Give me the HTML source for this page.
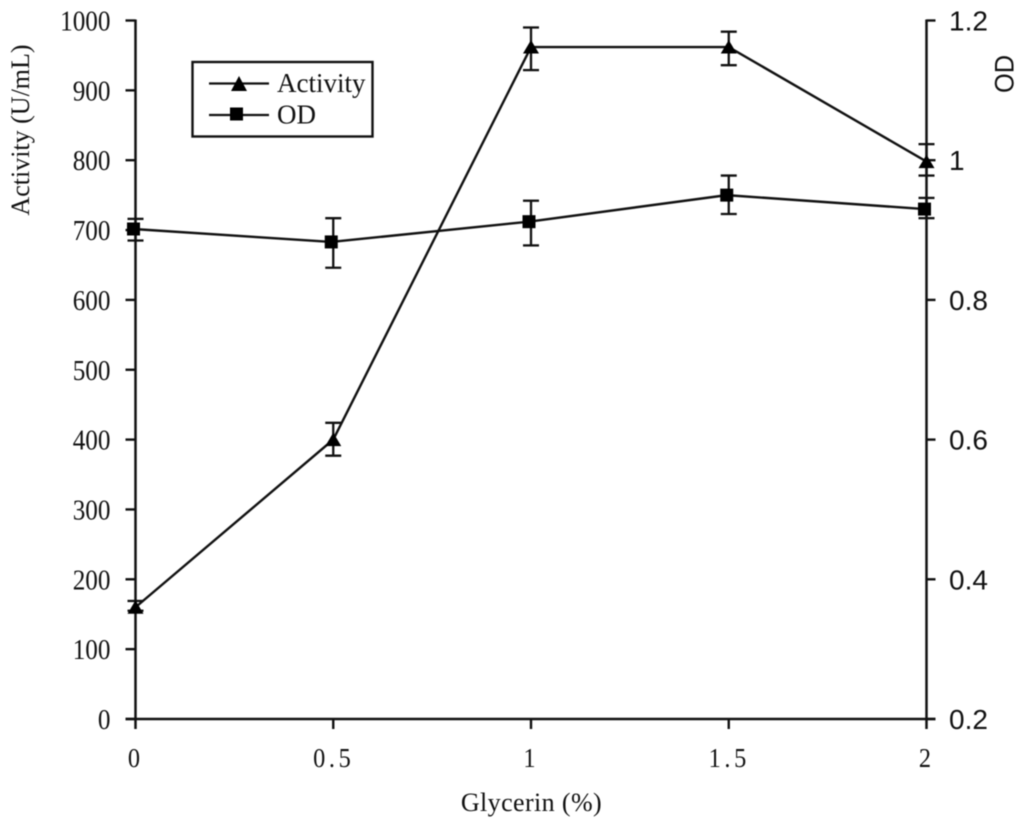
<!DOCTYPE html>
<html>
<head>
<meta charset="utf-8">
<title>Activity and OD vs Glycerin</title>
<style>
html,body{margin:0;padding:0;background:#fff;}
svg{display:block;filter:blur(0.4px);}
.serif{font-family:"Liberation Serif",serif;}
.sans{font-family:"Liberation Sans",sans-serif;}
</style>
</head>
<body>
<svg id="chart" width="1024" height="826" viewBox="0 0 1024 826" xmlns="http://www.w3.org/2000/svg">
  <rect width="1024" height="826" fill="#fff"/>
  <g id="axes"></g>
  <g id="series"></g>
  <g>
    <rect x="192.5" y="62" width="180" height="74.5" fill="#fff" stroke="#111" stroke-width="2.4"/>
    <line x1="209" y1="83.5" x2="269" y2="83.5" stroke="#111" stroke-width="2.3"/>
    <polygon points="239,76 247,91 231,91" fill="#000"/>
    <text class="serif" x="277" y="92" font-size="27" fill="#111">Activity</text>
    <line x1="209" y1="115" x2="269" y2="115" stroke="#111" stroke-width="2.3"/>
    <rect x="230" y="107.5" width="13" height="13" fill="#000"/>
    <text class="serif" x="277" y="123.5" font-size="27" fill="#111">OD</text>
  </g>
  <text class="serif" x="531.5" y="811" font-size="26" letter-spacing="0.4" text-anchor="middle" fill="#111">Glycerin (%)</text>
  <text class="serif" transform="translate(29,130) rotate(-90)" font-size="26" text-anchor="middle" fill="#111">Activity (U/mL)</text>
  <text class="sans" transform="translate(1013.5,74) rotate(-90) scale(0.94,1)" font-size="27" text-anchor="middle" fill="#111">OD</text>
</svg>
<script>
var glycerinValues = [0, 0.5, 1, 1.5, 2];
var xTickLabels = ["0", "0.5", "1", "1.5", "2"];
var activityTicks = [0, 100, 200, 300, 400, 500, 600, 700, 800, 900, 1000];
var odTicks = [0.2, 0.4, 0.6, 0.8, 1, 1.2];
var activityValues = [160, 400, 962, 962, 798];
var activityLow = [155, 377, 929, 936, 778];
var activityHigh = [169, 424, 990, 984, 823];
var odValues = [0.9015, 0.883, 0.912, 0.95, 0.93];
var odLow = [0.885, 0.846, 0.878, 0.923, 0.917];
var odHigh = [0.916, 0.917, 0.942, 0.978, 0.946];

var plotLeft = 135.5, plotRight = 926.5, plotTop = 20.5, plotBottom = 719;
var odMarkerShift = -2;
var NS = "http://www.w3.org/2000/svg";
var axesGroup = document.getElementById("axes");
var seriesGroup = document.getElementById("series");

function xScale(v) { return plotLeft + (v - 0) / (2 - 0) * (plotRight - plotLeft); }
function yActivity(v) { return plotBottom - (v - 0) / (1000 - 0) * (plotBottom - plotTop); }
function yOd(v) { return plotBottom - (v - 0.2) / (1.2 - 0.2) * (plotBottom - plotTop); }

function makeLine(parent, x1, y1, x2, y2, width) {
  var el = document.createElementNS(NS, "line");
  el.setAttribute("x1", x1);
  el.setAttribute("y1", y1);
  el.setAttribute("x2", x2);
  el.setAttribute("y2", y2);
  el.setAttribute("stroke", "#111");
  el.setAttribute("stroke-width", width);
  parent.appendChild(el);
  return el;
}
function makeText(parent, x, y, str, cls, size, anchor, squeeze) {
  var el = document.createElementNS(NS, "text");
  el.setAttribute("transform", "translate(" + x + "," + y + ") scale(" + squeeze + ",1)");
  el.setAttribute("class", cls);
  el.setAttribute("font-size", size);
  el.setAttribute("text-anchor", anchor);
  el.setAttribute("fill", "#111");
  el.textContent = str;
  parent.appendChild(el);
  return el;
}

var lineEl;
lineEl = makeLine(axesGroup, plotLeft, plotTop - 1, plotLeft, plotBottom + 10, 2.5);


lineEl = makeLine(axesGroup, plotRight, plotTop - 1, plotRight, plotBottom + 10, 2.5);


lineEl = makeLine(axesGroup, plotLeft - 10, plotBottom, plotRight + 9, plotBottom, 2.6);



activityTicks.forEach(function (t) {
  var y = yActivity(t);
  var tick = makeLine(axesGroup, plotLeft - 10, y, plotLeft, y, 2.4);
  
  
  var label = makeText(axesGroup, 110.5, y + 10, String(t), "serif", 28, "end", 0.9);
  
  
});
odTicks.forEach(function (t) {
  var y = yOd(t);
  var tick = makeLine(axesGroup, plotRight, y, plotRight + 9, y, 2.4);
  
  
  var label = makeText(axesGroup, 949, y + 10, String(t), "sans", 28, "start", 1);
  
  
});
glycerinValues.forEach(function (v, i) {
  var x = xScale(v);
  if (v !== 0 && v !== 2) {
    var tick = makeLine(axesGroup, x, plotBottom, x, plotBottom + 10, 2.4);
    
    
  }
  var wide = xTickLabels[i].length > 1;
  var label = makeText(axesGroup, wide ? x + 0.5 : x - 1.5, 767, xTickLabels[i], "serif", 27, "middle", 0.9);
  
  
  if (wide) {
    label.setAttribute("letter-spacing", "4");
  }
});

function drawErrorBars(values, low, high, yScale, seriesName) {
  values.forEach(function (v, i) {
    var x = xScale(glycerinValues[i]);
    var yHigh = yScale(high[i]);
    var yLow = yScale(low[i]);
    var stem = makeLine(seriesGroup, x, yHigh, x, yLow, 2.3);
    
    
    var capTop = makeLine(seriesGroup, x - 8, yHigh, x + 8, yHigh, 2.3);
    
    
    var capBottom = makeLine(seriesGroup, x - 8, yLow, x + 8, yLow, 2.3);
    
    
  });
}
function drawLine(values, yScale, shift, seriesName) {
  var pts = values.map(function (v, i) {
    return (xScale(glycerinValues[i]) + shift) + "," + yScale(v);
  }).join(" ");
  var poly = document.createElementNS(NS, "polyline");
  
  
  poly.setAttribute("points", pts);
  poly.setAttribute("fill", "none");
  poly.setAttribute("stroke", "#111");
  poly.setAttribute("stroke-width", "2.4");
  seriesGroup.appendChild(poly);
}

drawErrorBars(activityValues, activityLow, activityHigh, yActivity, "activity");
drawErrorBars(odValues, odLow, odHigh, yOd, "od");
drawLine(activityValues, yActivity, 0, "activity");
drawLine(odValues, yOd, odMarkerShift, "od");

activityValues.forEach(function (v, i) {
  var x = xScale(glycerinValues[i]);
  var y = yActivity(v);
  var tri = document.createElementNS(NS, "polygon");
  
  
  tri.setAttribute("points", x + "," + (y - 7) + " " + (x + 8) + "," + (y + 6.5) + " " + (x - 8) + "," + (y + 6.5));
  tri.setAttribute("fill", "#000");
  seriesGroup.appendChild(tri);
});
odValues.forEach(function (v, i) {
  var x = xScale(glycerinValues[i]) + odMarkerShift;
  var y = yOd(v);
  var sq = document.createElementNS(NS, "rect");
  
  
  sq.setAttribute("x", x - 6.5);
  sq.setAttribute("y", y - 6.5);
  sq.setAttribute("width", 13);
  sq.setAttribute("height", 13);
  sq.setAttribute("fill", "#000");
  seriesGroup.appendChild(sq);
});
</script>
</body>
</html>
